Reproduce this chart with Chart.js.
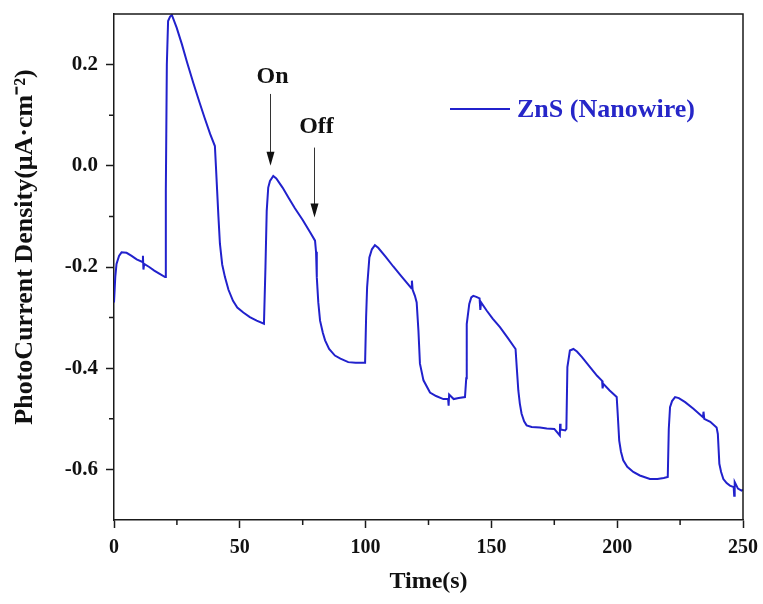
<!DOCTYPE html>
<html>
<head>
<meta charset="utf-8">
<title>ZnS photocurrent</title>
<script src="https://cdn.jsdelivr.net/npm/chart.js@4.4.0/dist/chart.umd.min.js"></script>
<style>
    html, body { margin: 0; padding: 0; background: #ffffff; }
    #wrap { width: 763px; height: 604px; }
</style>
</head>
<body>
<div id="wrap"><canvas id="chart" width="763" height="604"></canvas></div>
<script>
// Dados (tempo em s, densidade em µA·cm-2)
const seriesLabel = 'ZnS (Nanowire)';
const xTitle = 'Time(s)';
const yTitle = 'PhotoCurrent Density(μA·cm⁻²)';

const timeValues = [
    0, 0.5, 1, 2, 3, 5, 7, 9, 11.3, 11.5, 11.7, 12, 14, 16, 18, 20.3,
    20.6, 21, 21.5, 22.3, 23, 24.9, 27, 29, 31.5, 34, 36, 38.2, 40.1,
    40.5, 41, 41.5, 42.1, 43, 44.1, 45.5, 47.3, 49, 51.4, 54, 56.7, 59.6,
    60.2, 60.7, 61.3, 62, 63.3, 64.5, 67, 69.5, 71.9, 75, 78, 79.9,
    80.3, 80.6, 81.2, 81.9, 83, 83.9, 85.5, 87.8, 90, 93.1, 96, 99.8,
    100.2, 100.6, 101.5, 102.5, 103.7, 105, 108, 111, 114, 117, 118.2, 118.4, 118.7, 119.6,
    120.3, 121, 121.6, 123, 125.6, 128, 130.9, 132.8, 133, 133.2, 135, 137, 139.5,
    140, 140.2, 141.2, 142, 142.8, 144, 145.3, 145.6, 145.9, 148.1, 150.5, 153.4, 156.5, 159.6,
    160.1, 160.7, 161.3, 162, 163, 164, 166, 169.3, 172, 175, 177.2, 177.3, 177.5, 179.3,
    179.8, 180.2, 181.2, 182.6, 184, 186, 189.2, 192, 194, 194.2, 194.5, 197, 199.8,
    200.2, 200.8, 201.5, 202.4, 204, 206.4, 209, 213, 216, 218.5, 220.1,
    220.5, 221, 221.8, 223, 224.5, 227, 230.3, 234.1, 234.3, 234.6, 237, 239.5,
    240, 240.6, 241.3, 242.2, 243.5, 244.8, 246.3, 246.5, 246.7, 248, 249.4, 250
];

const currentValues = [
    -0.27, -0.22, -0.194, -0.178, -0.171, -0.172, -0.178, -0.185, -0.19, -0.178, -0.205, -0.194, -0.2, -0.207, -0.213, -0.22,
    -0.05, 0.2, 0.286, 0.295, 0.298, 0.273, 0.24, 0.205, 0.164, 0.125, 0.095, 0.063, 0.039,
    0.0, -0.05, -0.1, -0.154, -0.195, -0.22, -0.245, -0.267, -0.28, -0.29, -0.299, -0.306, -0.312,
    -0.2, -0.089, -0.043, -0.03, -0.02, -0.025, -0.043, -0.064, -0.084, -0.107, -0.132, -0.148,
    -0.17, -0.22, -0.27, -0.306, -0.33, -0.345, -0.362, -0.375, -0.381, -0.388, -0.389, -0.389,
    -0.3, -0.24, -0.181, -0.165, -0.157, -0.162, -0.18, -0.199, -0.217, -0.235, -0.242, -0.227, -0.245, -0.257,
    -0.27, -0.326, -0.391, -0.424, -0.448, -0.455, -0.461, -0.461, -0.474, -0.452, -0.461, -0.459, -0.457,
    -0.42, -0.313, -0.273, -0.26, -0.257, -0.259, -0.262, -0.285, -0.27, -0.286, -0.302, -0.319, -0.34, -0.362,
    -0.4, -0.444, -0.47, -0.49, -0.505, -0.513, -0.516, -0.517, -0.519, -0.52, -0.533, -0.51, -0.521, -0.523,
    -0.52, -0.398, -0.365, -0.362, -0.367, -0.378, -0.398, -0.415, -0.425, -0.44, -0.431, -0.444, -0.457,
    -0.49, -0.543, -0.565, -0.582, -0.595, -0.605, -0.612, -0.619, -0.619, -0.617, -0.615,
    -0.52, -0.477, -0.465, -0.457, -0.459, -0.467, -0.48, -0.497, -0.486, -0.5, -0.506, -0.517,
    -0.53, -0.589, -0.605, -0.619, -0.627, -0.632, -0.635, -0.652, -0.625, -0.638, -0.642, -0.64
];

// Marcas dos eixos
const xTicks = [0, 50, 100, 150, 200, 250];
const xMinorTicks = [25, 75, 125, 175, 225];
const yTicks = [-0.6, -0.4, -0.2, 0.0, 0.2];
const yMinorTicks = [-0.5, -0.3, -0.1, 0.1];

// Anotações On / Off (tempo da seta)
const markerLabels = ['On', 'Off'];
const markerTimes = [62.2, 79.6];

const serif = "'Liberation Serif', 'Times New Roman', serif";
const lineBlue = '#2121cc';
const axisColor = '#1a1a1a';

// Posição vertical das setas (valores do eixo y)
const markerStyle = [
    { textY: 0.176, top: 0.142, tip: 0.0 },
    { textY: 0.077, top: 0.036, tip: -0.102 }
];

// Moldura superior e direita, marcas menores e título do eixo y
const framePlugin = {
    id: 'frame',
    afterDraw(chart) {
        const { ctx, chartArea: a, scales } = chart;
        ctx.save();
        ctx.strokeStyle = axisColor;
        ctx.lineWidth = 1.5;
        ctx.beginPath();
        ctx.moveTo(a.left, a.top);
        ctx.lineTo(a.right, a.top);
        ctx.lineTo(a.right, a.bottom);
        ctx.stroke();

        ctx.beginPath();
        xMinorTicks.forEach(v => {
            const px = scales.x.getPixelForValue(v);
            ctx.moveTo(px, a.bottom);
            ctx.lineTo(px, a.bottom + 5);
        });
        yMinorTicks.forEach(v => {
            const py = scales.y.getPixelForValue(v);
            ctx.moveTo(a.left, py);
            ctx.lineTo(a.left - 5, py);
        });
        ctx.stroke();

        // título vertical (um pouco acima do centro, como no original)
        ctx.translate(25, a.top + 233);
        ctx.rotate(-Math.PI / 2);
        ctx.fillStyle = '#111111';
        ctx.font = 'bold 26px ' + serif;
        ctx.textAlign = 'center';
        ctx.textBaseline = 'middle';
        ctx.fillText(yTitle, 0, 0);
        ctx.restore();
    }
};

// Setas e textos On / Off
const markerPlugin = {
    id: 'markers',
    afterDatasetsDraw(chart) {
        const { ctx, scales } = chart;
        ctx.save();
        markerLabels.forEach((label, i) => {
            const s = markerStyle[i];
            const px = Math.round(scales.x.getPixelForValue(markerTimes[i])) + 0.5;
            const yText = scales.y.getPixelForValue(s.textY);
            const yTop = scales.y.getPixelForValue(s.top);
            const yTip = scales.y.getPixelForValue(s.tip);

            ctx.fillStyle = '#111111';
            ctx.font = 'bold 24px ' + serif;
            ctx.textAlign = 'center';
            ctx.textBaseline = 'middle';
            ctx.fillText(label, px + 2, yText);

            ctx.strokeStyle = '#333333';
            ctx.lineWidth = 1;
            ctx.beginPath();
            ctx.moveTo(px, yTop);
            ctx.lineTo(px, yTip - 12);
            ctx.stroke();

            ctx.fillStyle = '#111111';
            ctx.beginPath();
            ctx.moveTo(px - 4, yTip - 14);
            ctx.lineTo(px + 4, yTip - 14);
            ctx.lineTo(px, yTip);
            ctx.closePath();
            ctx.fill();
        });
        ctx.restore();
    }
};

// Legenda dentro da área do gráfico
const legendPlugin = {
    id: 'insideLegend',
    afterDatasetsDraw(chart) {
        const { ctx, chartArea: a } = chart;
        const ds = chart.data.datasets[0];
        const x0 = a.left + 336;
        const y0 = a.top + 95;
        ctx.save();
        ctx.strokeStyle = ds.borderColor;
        ctx.lineWidth = 2;
        ctx.beginPath();
        ctx.moveTo(x0, y0);
        ctx.lineTo(x0 + 60, y0);
        ctx.stroke();
        ctx.fillStyle = '#2626c8';
        ctx.font = 'bold 26px ' + serif;
        ctx.textAlign = 'left';
        ctx.textBaseline = 'middle';
        ctx.fillText(ds.label, x0 + 67, y0 + 1);
        ctx.restore();
    }
};

document.addEventListener('DOMContentLoaded', function() {
    const points = timeValues.map((t, i) => ({ x: t, y: currentValues[i] }));

    new Chart(document.getElementById('chart'), {
        type: 'line',
        data: {
            datasets: [{
                label: seriesLabel,
                data: points,
                borderColor: lineBlue,
                borderWidth: 2,
                pointRadius: 0,
                tension: 0,
                fill: false
            }]
        },
        options: {
            responsive: false,
            animation: false,
            layout: { padding: { top: 14, right: 20, left: 0, bottom: 0 } },
            plugins: {
                legend: { display: false },
                tooltip: { enabled: false }
            },
            scales: {
                x: {
                    type: 'linear',
                    min: 0,
                    max: 250,
                    afterBuildTicks: scale => { scale.ticks = xTicks.map(v => ({ value: v })); },
                    afterFit: scale => {
                        scale.height = 84;
                        scale.paddingLeft = 0;
                        scale.paddingRight = 0;
                    },
                    ticks: {
                        color: '#111111',
                        padding: 8,
                        maxRotation: 0,
                        font: { family: serif, size: 20, weight: 'bold' }
                    },
                    grid: {
                        drawOnChartArea: false,
                        tickLength: 8,
                        tickWidth: 1.5,
                        tickColor: axisColor
                    },
                    border: { display: true, color: axisColor, width: 1.5 },
                    title: {
                        display: true,
                        text: xTitle,
                        color: '#111111',
                        padding: { top: 0, bottom: 8 },
                        font: { family: serif, size: 24, weight: 'bold' }
                    }
                },
                y: {
                    type: 'linear',
                    min: -0.7,
                    max: 0.3,
                    afterBuildTicks: scale => { scale.ticks = yTicks.map(v => ({ value: v })); },
                    afterFit: scale => {
                        scale.width = 114;
                        scale.paddingTop = 0;
                        scale.paddingBottom = 0;
                    },
                    ticks: {
                        color: '#111111',
                        padding: 8,
                        font: { family: serif, size: 21, weight: 'bold' },
                        callback: v => Number(v).toFixed(1)
                    },
                    grid: {
                        drawOnChartArea: false,
                        tickLength: 8,
                        tickWidth: 1.5,
                        tickColor: axisColor
                    },
                    border: { display: true, color: axisColor, width: 1.5 },
                    title: { display: false }
                }
            }
        },
        plugins: [framePlugin, markerPlugin, legendPlugin]
    });
});
</script>
</body>
</html>
